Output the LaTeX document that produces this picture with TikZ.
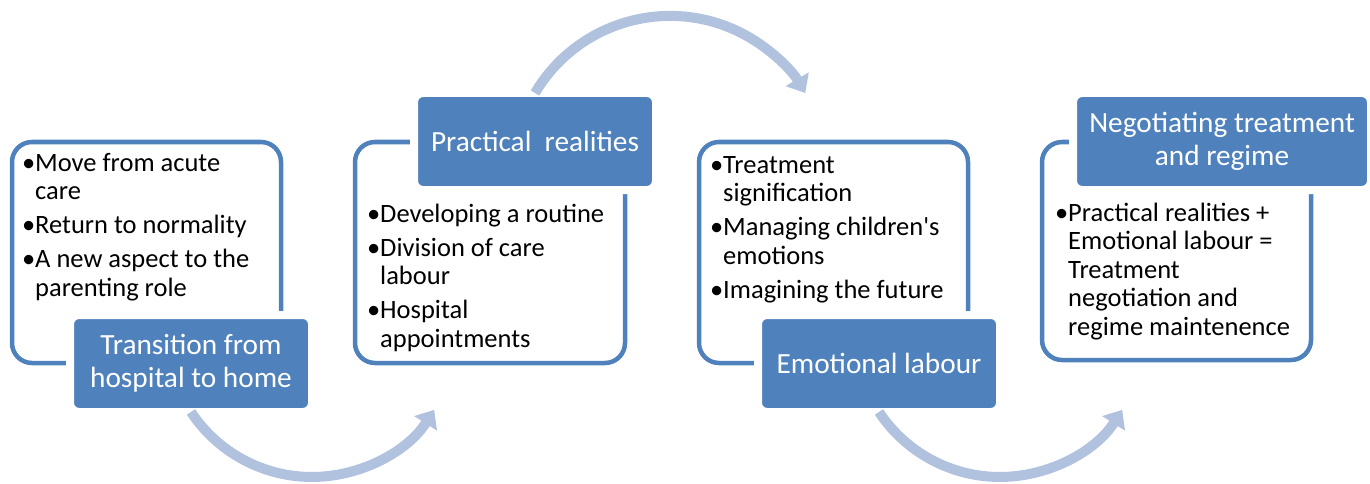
\documentclass[tikz,border=0pt]{standalone}
\usepackage{fontspec}
\setmainfont{Carlito}
\usetikzlibrary{arrows.meta}
\definecolor{boxblue}{RGB}{79,129,189}
\definecolor{swooshblue}{RGB}{176,194,222}
\newcommand{\bitem}[1]{\makebox[13pt][l]{\textbullet}#1}
\newcommand{\bcont}[1]{\hspace*{13pt}#1}

\begin{document}
\begin{tikzpicture}[x=1pt,y=-1pt,
    framebox/.style={draw=boxblue, line width=4.5pt, fill=white, rounded corners=20pt,
        minimum width=269pt, minimum height=221pt, inner sep=0pt, outer sep=0pt},
    headbox/.style={fill=boxblue, draw=white, line width=8pt, rounded corners=9pt,
        text=white, align=center, minimum width=242pt, minimum height=97pt,
        inner sep=0pt, outer sep=0pt, font=\fontsize{29.3}{33}\selectfont},
    bodytext/.style={anchor=base west, align=left, inner sep=0pt,
        font=\fontsize{26.5}{28.5}\selectfont},
    swoosh/.style={draw=swooshblue, line width=10pt, -{Triangle[width=26pt,length=16pt]}}]
        \useasboundingbox (0,0) rectangle (1370,484);
        \node[framebox] (frame1) at (146.5,252.5) {};
        \node[framebox, minimum width=270pt] (frame2) at (490,252.5) {};
        \node[framebox] (frame3) at (833.5,252.5) {};
        \node[framebox, minimum height=218pt] (frame4) at (1176.5,251) {};
        \node[headbox] (head1) at (191,363.5) {Transition from\\hospital to home};
        \node[headbox] (head2) at (535,141.5) {Practical\ \ realities};
        \node[headbox] (head3) at (879,363.5) {Emotional labour};
        \node[headbox, minimum width=298pt] (head4) at (1222,141.5) {Negotiating treatment\\and regime};
        \draw[swoosh] (head1.south) arc[start angle=146.5, end angle=32.5, radius=145];
        \draw[swoosh] (head2.north) arc[start angle=210.6, end angle=329.4, radius=157];
        \draw[swoosh] (head3.south) arc[start angle=146.5, end angle=32.5, radius=145];
        \node[bodytext] (body1) at (22,296) {\bitem{Move from acute}\\ \bcont{care}\\[5.5pt]
            \bitem{Return to normality}\\[5.5pt] \bitem{A new aspect to the}\\ \bcont{parenting role}};
        \node[bodytext] (body2) at (367,347) {\bitem{Developing a routine}\\[5.5pt]
            \bitem{Division of care}\\ \bcont{labour}\\[5.5pt] \bitem{Hospital}\\ \bcont{appointments}};
        \node[bodytext] (body3) at (710,298) {\bitem{Treatment}\\ \bcont{signification}\\[5.5pt]
            \bitem{Managing children\textquotesingle s}\\ \bcont{emotions}\\[5.5pt] \bitem{Imagining the future}};
        \node[bodytext] (body4) at (1055,335) {\bitem{Practical realities +}\\ \bcont{Emotional labour =}\\
            \bcont{Treatment}\\ \bcont{negotiation and}\\ \bcont{regime maintenence}};
\end{tikzpicture}
\end{document}
